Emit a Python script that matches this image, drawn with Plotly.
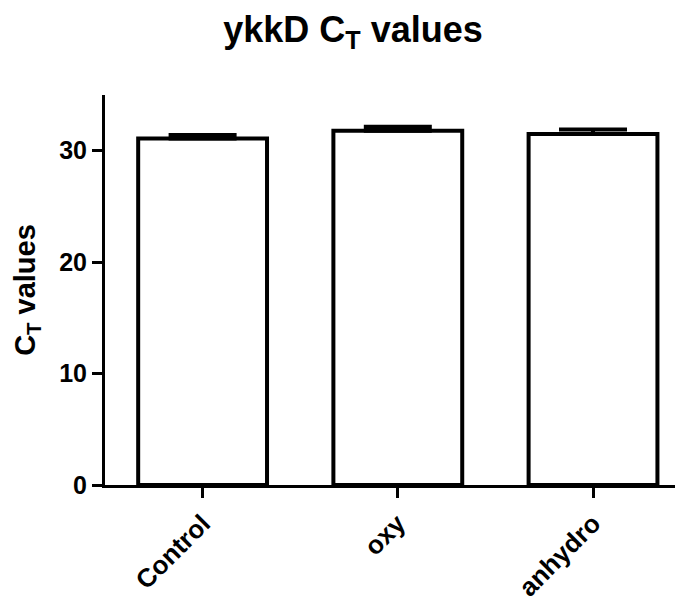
import plotly.graph_objects as go

# Mean C_T values per condition with their upper error
categories = ["Control", "oxy", "anhydro"]
ct_means = [31.1, 31.8, 31.5]
ct_errors = [0.3, 0.35, 0.4]
y_ticks = [0, 10, 20, 30]

fig = go.Figure(
    go.Bar(
        x=categories,
        y=ct_means,
        marker=dict(color="white", line=dict(color="black", width=4)),
        error_y=dict(
            type="data",
            symmetric=False,
            array=ct_errors,
            arrayminus=[0] * len(ct_errors),
            color="black",
            thickness=4,
            width=34,
        ),
        width=0.66,
    )
)

font_family = "Liberation Sans, Arial, sans-serif"

fig.update_layout(
    width=675,
    height=604,
    margin=dict(l=105, r=0, t=95, b=119),
    paper_bgcolor="white",
    plot_bgcolor="white",
    showlegend=False,
    font=dict(family=font_family, color="black"),
    title=dict(
        text="<b>ykkD C<sub>T</sub> values</b>",
        x=0.523,
        xanchor="center",
        y=0.952,
        yanchor="middle",
        font=dict(size=36, family=font_family, color="black"),
    ),
)

fig.update_xaxes(
    range=[-0.5, 2.42],
    automargin=False,
    showline=True,
    linecolor="black",
    linewidth=3,
    ticks="outside",
    ticklen=10,
    tickwidth=3,
    tickcolor="black",
    tickangle=-45,
    tickfont=dict(size=26, family=font_family, color="black", weight="bold"),
    showgrid=False,
    zeroline=False,
)

fig.update_yaxes(
    range=[0, 35],
    automargin=False,
    tickvals=y_ticks,
    showline=True,
    linecolor="black",
    linewidth=3,
    ticks="outside",
    ticklen=10,
    tickwidth=3,
    tickcolor="black",
    tickfont=dict(size=25, family=font_family, color="black", weight="bold"),
    title=dict(
        text="<b>C<sub>T</sub> values</b>",
        font=dict(size=29, family=font_family, color="black"),
        standoff=16,
    ),
    showgrid=False,
    zeroline=False,
)

fig.write_html("out.html")
